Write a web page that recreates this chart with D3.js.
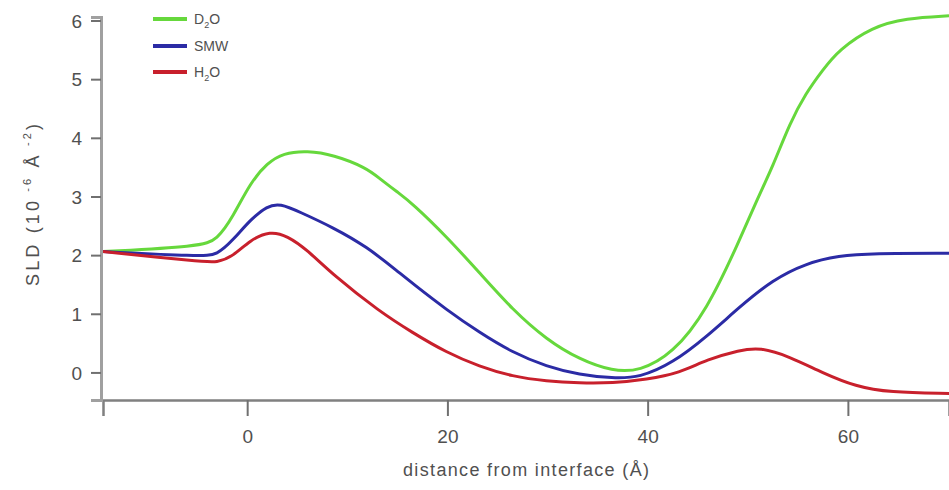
<!DOCTYPE html>
<meta charset="utf-8">
<style>
body { margin: 0; background: #fff; }
text { font-family: "Liberation Sans", Arial, sans-serif; fill: #505050; }
.axis text { font-size: 19px; }
.legend text { font-size: 14px; }
.curve { fill: none; stroke-width: 3; }
</style>
<svg width="949" height="490"></svg>
<script src="https://d3js.org/d3.v7.min.js"></script>
<script>

// distance from interface (Å) and SLD values
var xD2O = [-14.4, -4.7, -3.0, -1.4, 0.3, 2.0, 3.6, 6.0, 8.6, 11.9, 13.2, 15.2, 16.5, 19.9, 23.2, 26.5, 29.9, 33.2, 36.5, 39.2, 42.5, 45.9, 49.2, 50.9, 52.5, 54.2, 55.8, 57.5, 59.1, 62.4, 65.8, 70.1];
var yD2O = [2.06, 2.15, 2.26, 2.66, 3.23, 3.57, 3.74, 3.78, 3.71, 3.49, 3.31, 3.05, 2.88, 2.32, 1.70, 1.07, 0.56, 0.22, 0.02, 0.02, 0.32, 1.05, 2.26, 2.94, 3.51, 4.25, 4.76, 5.16, 5.50, 5.89, 6.04, 6.08];

var xSMW = [-14.4, -4.7, -3.0, -1.4, 0.3, 2.0, 3.3, 5.2, 8.6, 11.9, 15.2, 16.5, 19.9, 23.2, 26.5, 29.9, 33.2, 36.5, 39.2, 42.5, 45.9, 49.2, 52.5, 55.8, 59.1, 62.4, 70.1];
var ySMW = [2.06, 1.98, 2.00, 2.26, 2.60, 2.84, 2.88, 2.74, 2.47, 2.15, 1.70, 1.52, 1.07, 0.68, 0.34, 0.10, -0.04, -0.10, -0.09, 0.16, 0.61, 1.12, 1.58, 1.86, 1.99, 2.03, 2.03];

var xH2O = [-14.4, -4.7, -3.0, -1.4, 0.3, 2.3, 4.0, 6.0, 8.6, 13.2, 16.5, 19.9, 23.2, 26.5, 29.9, 33.2, 36.5, 39.9, 43.2, 45.9, 49.2, 51.2, 54.2, 57.5, 60.8, 64.1, 70.1];
var yH2O = [2.06, 1.89, 1.87, 1.98, 2.26, 2.41, 2.33, 2.09, 1.66, 1.04, 0.68, 0.34, 0.10, -0.07, -0.15, -0.18, -0.18, -0.12, -0.01, 0.22, 0.38, 0.43, 0.27, -0.01, -0.24, -0.34, -0.36];

var xTicks = [0, 20, 40, 60];
var yTicks = [0, 1, 2, 3, 4, 5, 6];

var series = [
  {name: "D", sub: "2", tail: "O", xs: xD2O, ys: yD2O, color: "#66d83c"},
  {name: "SMW", sub: "", tail: "", xs: xSMW, ys: ySMW, color: "#2b2ba5"},
  {name: "H", sub: "2", tail: "O", xs: xH2O, ys: yH2O, color: "#c8202c"}
];

var svg = d3.select("svg");

var x = d3.scaleLinear().domain([-14.4, 70.1]).range([103, 949]);
var y = d3.scaleLinear().domain([-0.47, 6.06]).range([400, 17]);

var line = d3.line()
    .x(d => x(d[0]))
    .y(d => y(d[1]))
    .curve(d3.curveBasis);

svg.selectAll(".curve")
  .data(series)
  .join("path")
    .attr("class", "curve")
    .attr("stroke", d => d.color)
    .attr("d", d => line(d.xs.map((v, i) => [v, d.ys[i]])));

// axes
var gx = svg.append("g")
    .attr("class", "axis")
    .attr("transform", "translate(0,400)")
    .call(d3.axisBottom(x).tickValues(xTicks).tickSize(16).tickPadding(14).tickFormat(d3.format("d")));
gx.select(".domain").attr("stroke", "#808080").attr("stroke-width", 2.5);
gx.selectAll(".tick line").attr("stroke", "#707070").attr("stroke-width", 2);

var gy = svg.append("g")
    .attr("class", "axis")
    .attr("transform", "translate(101,0)")
    .call(d3.axisLeft(y).tickValues(yTicks).tickSize(10).tickPadding(9).tickFormat(d3.format("d")));
gy.select(".domain").attr("stroke", "#a0a0a0").attr("stroke-width", 3);
gy.selectAll(".tick line").attr("stroke", "#707070").attr("stroke-width", 2);
gy.selectAll(".tick text").attr("dy", "0.35em");

// axis titles
svg.append("text")
    .attr("x", 526)
    .attr("y", 476)
    .attr("text-anchor", "middle")
    .attr("textLength", 246)
    .attr("lengthAdjust", "spacing")
    .style("font-size", "18px")
    .text("distance from interface (Å)");

var yt = svg.append("text")
    .attr("transform", "translate(39,205) rotate(-90)")
    .attr("text-anchor", "middle")
    .attr("textLength", 162)
    .attr("lengthAdjust", "spacing")
    .style("font-size", "18px");
yt.append("tspan").text("SLD (10");
yt.append("tspan").attr("dy", -8).style("font-size", "11px").text(" -6");
yt.append("tspan").attr("dy", 8).text(" Å");
yt.append("tspan").attr("dy", -8).style("font-size", "11px").text(" -2");
yt.append("tspan").attr("dy", 8).text(")");

// legend
var lg = svg.append("g").attr("class", "legend");
var item = lg.selectAll("g")
  .data(series)
  .join("g")
    .attr("transform", (d, i) => "translate(153," + [19, 46, 72][i] + ")");
item.append("line")
    .attr("x1", 0).attr("x2", 34)
    .attr("stroke", d => d.color)
    .attr("stroke-width", 4);
var lt = item.append("text")
    .attr("x", 41)
    .attr("dy", "0.35em");
lt.append("tspan").text(d => d.name);
lt.append("tspan").attr("dy", 4).style("font-size", "9px").text(d => d.sub);
lt.append("tspan").attr("dy", d => d.sub ? -4 : 0).text(d => d.tail);

</script>
